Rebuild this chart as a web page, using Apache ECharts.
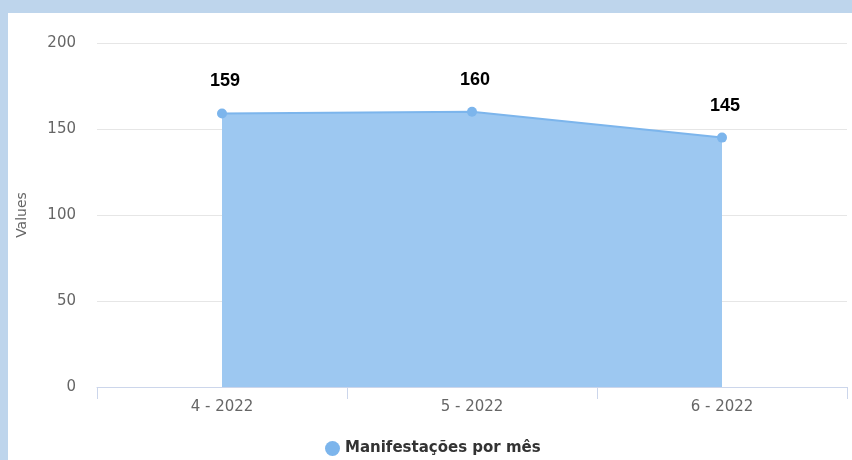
<!DOCTYPE html>
<html><head><meta charset="utf-8">
<script src="https://cdn.jsdelivr.net/npm/echarts@6/dist/echarts.min.js"></script>
<style>
html,body{margin:0;padding:0;background:#bed5ec;}
#wrap{position:absolute;left:8px;top:13px;width:844px;height:447px;background:#fff;}
#c{position:absolute;left:0;top:0;width:852px;height:460px;}
</style></head>
<body><div id="wrap"></div><div id="c"></div>
<script>
const categories = ['4 - 2022', '5 - 2022', '6 - 2022'];
const values = [159, 160, 145];
const seriesName = 'Manifestações por mês';
const yTicks = [0, 50, 100, 150, 200];

const chart = echarts.init(document.getElementById('c'));
chart.setOption({
  animation: false,
  backgroundColor: 'transparent',
  grid: {left: 97, right: 5, top: 43, bottom: 73, containLabel: false},
  legend: {
    bottom: 4, left: 325, padding: 0,
    data: [{name: seriesName, icon: 'circle'}],
    itemWidth: 15, itemHeight: 15, itemGap: 6,
    textStyle: {color: '#333', fontSize: 15, fontWeight: 'bold', fontFamily: 'DejaVu Sans'}
  },
  xAxis: {
    type: 'category', data: categories, boundaryGap: true,
    axisLine: {lineStyle: {color: '#ccd6eb', width: 1}},
    axisTick: {show: true, length: 12, lineStyle: {color: '#ccd6eb'}},
    axisLabel: {color: '#666', fontSize: 15, margin: 13, fontFamily: 'DejaVu Sans'},
    splitLine: {show: false}
  },
  yAxis: {
    type: 'value', min: yTicks[0], max: yTicks[yTicks.length-1], interval: 50,
    name: 'Values', nameLocation: 'middle', nameGap: 68,
    nameTextStyle: {color: '#666', fontSize: 14, fontFamily: 'DejaVu Sans'},
    axisLine: {show: false}, axisTick: {show: false},
    axisLabel: {color: '#666', fontSize: 15, margin: 21, fontFamily: 'DejaVu Sans'},
    splitLine: {lineStyle: {color: '#e6e6e6', width: 1}}
  },
  series: [{
    name: seriesName, type: 'line', data: values,
    symbol: 'circle', symbolSize: 10,
    lineStyle: {color: '#7cb5ec', width: 2},
    itemStyle: {color: '#7cb5ec'},
    areaStyle: {color: '#9dc8f1', opacity: 1},
    label: {show: true, position: 'top', distance: 18, offset: [3, 0], color: '#000', fontSize: 18, fontWeight: 'bold', fontFamily: 'Liberation Sans'}
  }]
});
</script></body></html>
